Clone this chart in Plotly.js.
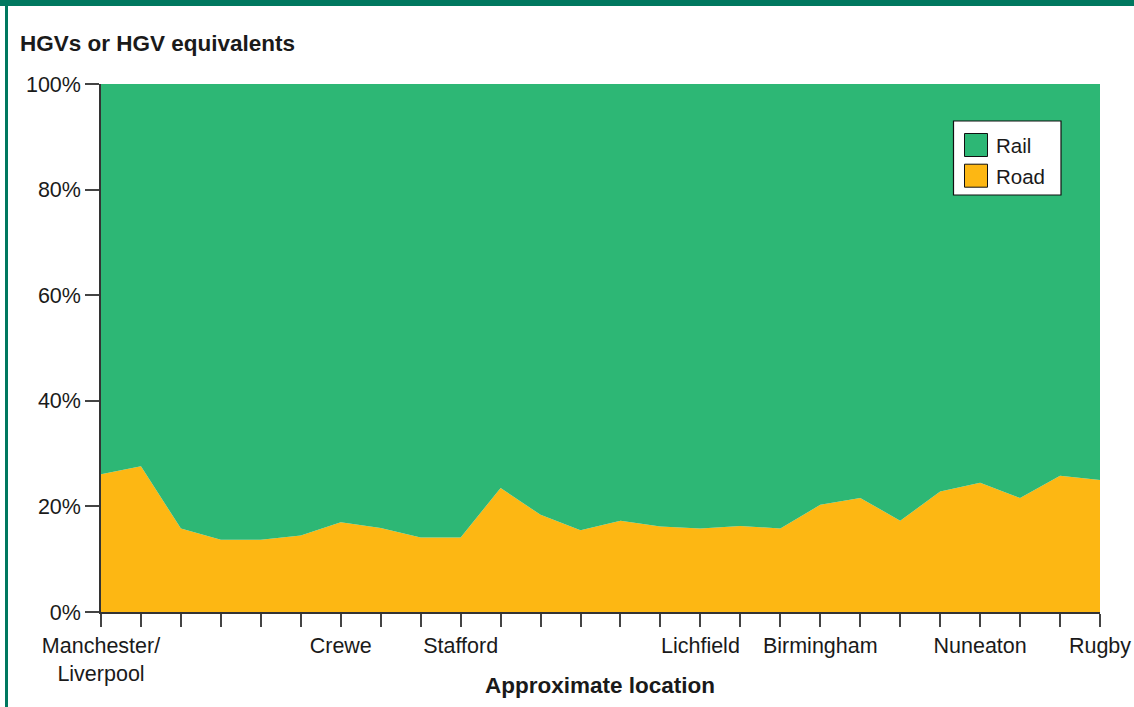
<!DOCTYPE html>
<html><head><meta charset="utf-8">
<script src="https://cdn.plot.ly/plotly-3.0.1.min.js"></script>
<style>
body{margin:0;background:#fff;}
#wrap{position:relative;width:1134px;height:707px;overflow:hidden;}
#chart{width:1134px;height:707px;}
.bar-top{position:absolute;left:0;top:0;width:1134px;height:6px;background:#00785f;}
.bar-left{position:absolute;left:5px;top:0;width:3px;height:707px;background:#00785f;}
</style>
</head><body>
<div id="wrap"><div id="chart"></div><div class="bar-top"></div><div class="bar-left"></div></div>
<script>
// Location labels along the route (26 measuring points)
const tickLabels = ["Manchester/<br>Liverpool","","","","","","Crewe","","","Stafford","","","","","","Lichfield","","","Birmingham","","","","Nuneaton","","","Rugby"];
// Share of HGVs or HGV equivalents (%)
const roadShare = [26.1,27.6,15.8,13.7,13.7,14.5,17.0,15.9,14.1,14.1,23.5,18.4,15.5,17.3,16.2,15.8,16.3,15.8,20.3,21.6,17.3,22.8,24.5,21.6,25.8,25.0];
const railShare = [73.9,72.4,84.2,86.3,86.3,85.5,83.0,84.1,85.9,85.9,76.5,81.6,84.5,82.7,83.8,84.2,83.7,84.2,79.7,78.4,82.7,77.2,75.5,78.4,74.2,75.0];
const yTicks = [0,20,40,60,80,100];
const yTickText = ["0%","20%","40%","60%","80%","100%"];
const seriesNames = ["Rail","Road"];
const seriesColors = {Rail:"#2db775", Road:"#fdb713"};

const xIdx = tickLabels.map((_, i) => i);

// plot area geometry (pixels) for legend placement
const L = 101, R = 1100, T = 84, B = 612;
const px = x => (x - L) / (R - L);
const py = y => (B - y) / (B - T);

const traces = [
  {x: xIdx, y: roadShare, name: "Road", type: "scatter", mode: "none", stackgroup: "one",
   fillcolor: seriesColors.Road, line: {width: 0}, hoverinfo: "x+y", showlegend: false},
  {x: xIdx, y: railShare, name: "Rail", type: "scatter", mode: "none", stackgroup: "one",
   fillcolor: seriesColors.Rail, line: {width: 0}, hoverinfo: "x+y", showlegend: false}
];

const textColor = "#1a1a1a";
const fontFam = "Liberation Sans, Arial, sans-serif";
const tickSize = 21.5;

const shapes = [
  {type: "rect", xref: "paper", yref: "paper", x0: px(953.5), x1: px(1061), y0: py(195), y1: py(121),
   fillcolor: "#ffffff", line: {color: "#111", width: 1.2}, layer: "above"},
];
const annotations = [];
seriesNames.forEach((nm, i) => {
  const top = 133.5 + i * 30.7;
  shapes.push({type: "rect", xref: "paper", yref: "paper", x0: px(964.5), x1: px(987.5),
    y0: py(top + 23), y1: py(top), fillcolor: seriesColors[nm], line: {color: "#111", width: 1}, layer: "above"});
  annotations.push({xref: "paper", yref: "paper", x: px(994), y: py(top + 12), xanchor: "left", yanchor: "middle",
    text: nm, showarrow: false, font: {family: fontFam, size: 20.5, color: textColor}});
});
// x-axis title
annotations.push({xref: "paper", yref: "paper", x: px(600), y: py(685), xanchor: "center", yanchor: "middle",
  text: "Approximate location", showarrow: false,
  font: {family: fontFam, size: 22.5, weight: 700, color: textColor}});

const layout = {
  width: 1134, height: 707,
  margin: {l: L, r: 1134 - R, t: T, b: 707 - B, pad: 0},
  paper_bgcolor: "#ffffff", plot_bgcolor: "#ffffff",
  font: {family: fontFam, size: tickSize, color: textColor},
  title: {text: "HGVs or HGV equivalents", xref: "container", yref: "container",
    x: 20 / 1134, xanchor: "left", y: 1 - 43 / 707, yanchor: "middle",
    font: {family: fontFam, size: 22.5, weight: 700, color: textColor}},
  showlegend: false,
  xaxis: {range: [0, 25], tickvals: xIdx, ticktext: tickLabels, tickmode: "array",
    showgrid: false, zeroline: false, showline: true, linecolor: "#333", linewidth: 1.5,
    ticks: "outside", ticklen: 13, tickcolor: "#444", tickwidth: 1.5,
    tickfont: {family: fontFam, size: tickSize, color: textColor},
    automargin: false, fixedrange: true},
  yaxis: {range: [0, 100], tickvals: yTicks, ticktext: yTickText, tickmode: "array",
    showgrid: false, zeroline: false, showline: true, linecolor: "#333", linewidth: 1.5,
    ticks: "outside", ticklen: 14, tickcolor: "#444", tickwidth: 1.5,
    tickfont: {family: fontFam, size: tickSize, color: textColor},
    automargin: false, fixedrange: true},
  shapes: shapes,
  annotations: annotations
};

Plotly.newPlot("chart", traces, layout, {displayModeBar: false});
</script>
</body></html>
